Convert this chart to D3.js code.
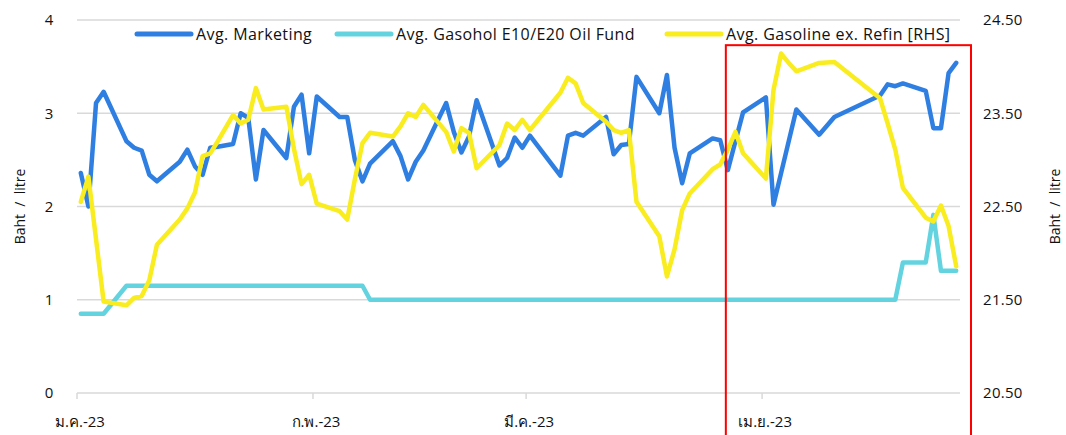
<!DOCTYPE html>
<html>
<head>
<meta charset="utf-8">
<script src="https://cdn.jsdelivr.net/npm/d3@7"></script>
<style>
  body { margin: 0; background: #fff; }
  svg text { font-family: "Open Sans", Lato, "Noto Sans", "DejaVu Sans", sans-serif; fill: #111; }
</style>
</head>
<body>
<svg id="chart" width="1066" height="435"></svg>
<script>
const dates = [
  '2023-01-01','2023-01-02','2023-01-03','2023-01-04','2023-01-07','2023-01-08','2023-01-09','2023-01-10','2023-01-11',
  '2023-01-14','2023-01-15','2023-01-16','2023-01-17','2023-01-18','2023-01-19','2023-01-21','2023-01-22','2023-01-23',
  '2023-01-24','2023-01-25','2023-01-28','2023-01-29','2023-01-30','2023-01-31','2023-02-01','2023-02-04','2023-02-05',
  '2023-02-06','2023-02-07','2023-02-08','2023-02-11','2023-02-12','2023-02-13','2023-02-14','2023-02-15','2023-02-18',
  '2023-02-19','2023-02-20','2023-02-21','2023-02-22','2023-02-25','2023-02-26','2023-02-27','2023-02-28','2023-03-01',
  '2023-03-05','2023-03-06','2023-03-07','2023-03-08','2023-03-11','2023-03-12','2023-03-13','2023-03-14','2023-03-15',
  '2023-03-18','2023-03-19','2023-03-20','2023-03-21','2023-03-22','2023-03-25','2023-03-26','2023-03-27','2023-03-28',
  '2023-03-29','2023-04-01','2023-04-02','2023-04-03','2023-04-04','2023-04-05','2023-04-08','2023-04-10','2023-04-16',
  '2023-04-17','2023-04-18','2023-04-19','2023-04-22','2023-04-23','2023-04-24','2023-04-25','2023-04-26'
]

const marketing = [
  2.36, 2.00, 3.11, 3.23, 2.70, 2.63, 2.60, 2.34, 2.27,
  2.48, 2.61, 2.43, 2.34, 2.63, 2.64, 2.67, 3.00, 2.95,
  2.29, 2.82, 2.52, 3.07, 3.20, 2.57, 3.18, 2.96, 2.96,
  2.50, 2.27, 2.46, 2.70, 2.54, 2.29, 2.48, 2.60, 3.11,
  2.80, 2.58, 2.75, 3.14, 2.44, 2.52, 2.74, 2.63, 2.76,
  2.33, 2.76, 2.79, 2.76, 2.96, 2.56, 2.66, 2.67, 3.39,
  3.00, 3.41, 2.63, 2.25, 2.57, 2.73, 2.71, 2.39, 2.70,
  3.01, 3.17, 2.02, 2.36, 2.70, 3.04, 2.77, 2.96, 3.19,
  3.31, 3.29, 3.32, 3.24, 2.84, 2.84, 3.43, 3.54
]

const oilFund = [
  0.85, 0.85, 0.85, 0.85, 1.15, 1.15, 1.15, 1.15, 1.15,
  1.15, 1.15, 1.15, 1.15, 1.15, 1.15, 1.15, 1.15, 1.15,
  1.15, 1.15, 1.15, 1.15, 1.15, 1.15, 1.15, 1.15, 1.15,
  1.15, 1.15, 1.00, 1.00, 1.00, 1.00, 1.00, 1.00, 1.00,
  1.00, 1.00, 1.00, 1.00, 1.00, 1.00, 1.00, 1.00, 1.00,
  1.00, 1.00, 1.00, 1.00, 1.00, 1.00, 1.00, 1.00, 1.00,
  1.00, 1.00, 1.00, 1.00, 1.00, 1.00, 1.00, 1.00, 1.00,
  1.00, 1.00, 1.00, 1.00, 1.00, 1.00, 1.00, 1.00, 1.00,
  1.00, 1.00, 1.40, 1.40, 1.91, 1.31, 1.31, 1.31
]

const gasolineRHS = [
  22.55, 22.82, 22.15, 21.48, 21.44, 21.52, 21.54, 21.71, 22.09,
  22.36, 22.48, 22.65, 23.04, 23.07, 23.20, 23.48, 23.39, 23.43,
  23.77, 23.54, 23.57, 23.12, 22.74, 22.84, 22.53, 22.45, 22.36,
  22.79, 23.18, 23.29, 23.25, 23.36, 23.50, 23.46, 23.59, 23.30,
  23.09, 23.34, 23.29, 22.91, 23.16, 23.39, 23.32, 23.43, 23.32,
  23.72, 23.88, 23.82, 23.61, 23.41, 23.32, 23.29, 23.32, 22.55,
  22.18, 21.75, 22.04, 22.46, 22.64, 22.90, 22.95, 23.11, 23.30,
  23.07, 22.80, 23.75, 24.14, 24.04, 23.95, 24.04, 24.05, 23.66,
  23.39, 23.11, 22.70, 22.38, 22.34, 22.51, 22.29, 21.86
]

const leftTicks = [0, 1, 2, 3, 4]
const rightTicks = [20.5, 21.5, 22.5, 23.5, 24.5]
const monthLabels = ['ม.ค.-23', 'ก.พ.-23', 'มี.ค.-23', 'เม.ย.-23']
const seriesNames = ['Avg. Marketing', 'Avg. Gasohol E10/E20 Oil Fund', 'Avg. Gasoline ex. Refin [RHS]']
const colors = ['#2e7fe1', '#63d3e0', '#f9ec1f']
const highlightStart = '2023-03-27'

const parse = d3.timeParse('%Y-%m-%d')
const days = dates.map(parse)

const width = 1066
const height = 435
const margin = {top: 20, right: 106, bottom: 42, left: 77}

const svg = d3.select('#chart')

const x = d3.scaleTime()
  .domain([parse('2023-01-01'), parse('2023-04-27')])
  .range([margin.left, width - margin.right])
const yL = d3.scaleLinear().domain([0, 4]).range([height - margin.bottom, margin.top])
const yR = d3.scaleLinear().domain([20.5, 24.5]).range([height - margin.bottom, margin.top])

// middle of the day, like excel's date axis
const xMid = d => x(d3.timeHour.offset(d, 12))

// grid
svg.append('g')
  .selectAll('line')
  .data(leftTicks)
  .join('line')
  .attr('x1', margin.left)
  .attr('x2', width - margin.right)
  .attr('y1', d => yL(d))
  .attr('y2', d => yL(d))
  .style('stroke', '#d9d9d9')
  .style('stroke-width', 1.5)

// month ticks
const months = d3.timeMonth.range(parse('2023-01-01'), parse('2023-04-27'))
svg.append('g')
  .selectAll('line')
  .data(months)
  .join('line')
  .attr('x1', d => x(d))
  .attr('x2', d => x(d))
  .attr('y1', yL(0))
  .attr('y2', yL(0) + 6)
  .style('stroke', '#d9d9d9')
  .style('stroke-width', 1.5)

svg.append('g')
  .selectAll('text')
  .data(months)
  .join('text')
  .attr('x', d => x(d) + 3)
  .attr('y', height - 8)
  .attr('text-anchor', 'middle')
  .style('font-size', '15px')
  .text((d, i) => monthLabels[i])

// left + right tick labels
svg.append('g')
  .selectAll('text')
  .data(leftTicks)
  .join('text')
  .attr('x', 49)
  .attr('y', d => yL(d))
  .attr('dy', '0.35em')
  .attr('text-anchor', 'middle')
  .style('font-size', '15px')
  .text(d => d)

svg.append('g')
  .selectAll('text')
  .data(rightTicks)
  .join('text')
  .attr('x', 983)
  .attr('y', d => yR(d))
  .attr('dy', '0.35em')
  .style('font-size', '15px')
  .style('letter-spacing', '0.3px')
  .text(d => d3.format('.2f')(d))

// axis titles
const ymid = (margin.top + height - margin.bottom) / 2
svg.append('text')
  .attr('transform', `translate(25,${ymid}) rotate(-90)`)
  .attr('text-anchor', 'middle')
  .style('font-size', '14px')
  .style('white-space', 'pre')
  .text('Baht  /  litre')
svg.append('text')
  .attr('transform', `translate(1060,${ymid}) rotate(-90)`)
  .attr('text-anchor', 'middle')
  .style('font-size', '14px')
  .style('white-space', 'pre')
  .text('Baht  /  litre')

// lines
const lineL = d3.line().x((d, i) => xMid(days[i])).y(d => yL(d))
const lineR = d3.line().x((d, i) => xMid(days[i])).y(d => yR(d))

const series = [
  {values: oilFund, line: lineL, color: colors[1]},
  {values: marketing, line: lineL, color: colors[0]},
  {values: gasolineRHS, line: lineR, color: colors[2]}
]

svg.append('g')
  .selectAll('path')
  .data(series)
  .join('path')
  .attr('d', d => d.line(d.values))
  .style('fill', 'none')
  .style('stroke', d => d.color)
  .style('stroke-width', 4.5)
  .style('stroke-linejoin', 'round')
  .style('stroke-linecap', 'round')

// legend
const legendX = [137, 337, 667]
const legend = svg.append('g')
  .selectAll('g')
  .data(seriesNames)
  .join('g')
  .attr('transform', (d, i) => `translate(${legendX[i]},34)`)
legend.append('line')
  .attr('x1', 0)
  .attr('x2', 54)
  .style('stroke', (d, i) => colors[i])
  .style('stroke-width', 5)
  .style('stroke-linecap', 'round')
legend.append('text')
  .attr('x', 59)
  .attr('dy', '0.35em')
  .style('font-size', '16px')
  .style('letter-spacing', '0.4px')
  .text(d => d)

// highlight box
svg.append('rect')
  .attr('x', xMid(parse(highlightStart)) - 2)
  .attr('y', yL(3.73))
  .attr('width', width - margin.right + 11 - xMid(parse(highlightStart)) + 2)
  .attr('height', height - yL(3.73) + 1)
  .style('fill', 'none')
  .style('stroke', '#ff0000')
  .style('stroke-width', 2)
</script>
</body>
</html>
